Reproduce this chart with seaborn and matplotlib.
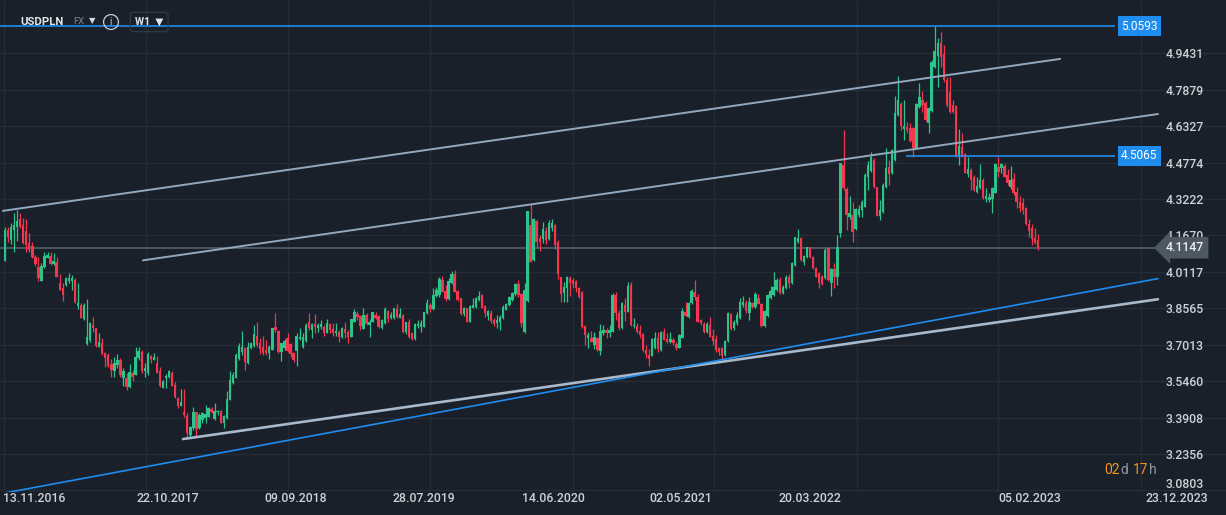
import numpy as np
import matplotlib
matplotlib.use('Agg')
import matplotlib.pyplot as plt
import matplotlib.transforms as mtransforms
import seaborn as sns

# Weekly USDPLN candles (oldest first)
opens = [
    4.060, 4.190, 4.148, 4.190, 4.205, 4.237, 4.212, 4.186, 4.134, 4.122,
    4.077, 4.034, 3.974, 4.031, 4.070, 4.080, 4.044, 4.055, 3.966, 3.942,
    3.956, 3.973, 3.973, 3.977, 3.866, 3.871, 3.810, 3.704, 3.722, 3.786,
    3.771, 3.693, 3.710, 3.665, 3.658, 3.619, 3.587, 3.615, 3.636, 3.558,
    3.561, 3.520, 3.580, 3.572, 3.643, 3.672, 3.587, 3.580, 3.653, 3.636,
    3.622, 3.589, 3.518, 3.558, 3.565, 3.582, 3.530, 3.475, 3.441, 3.416,
    3.397, 3.317, 3.345, 3.413, 3.345, 3.380, 3.387, 3.395, 3.427, 3.385,
    3.415, 3.419, 3.369, 3.387, 3.466, 3.537, 3.561, 3.639, 3.669, 3.689,
    3.622, 3.686, 3.696, 3.739, 3.710, 3.690, 3.679, 3.667, 3.679, 3.778,
    3.761, 3.672, 3.689, 3.728, 3.703, 3.665, 3.676, 3.726, 3.690, 3.719,
    3.800, 3.764, 3.790, 3.771, 3.778, 3.778, 3.753, 3.790, 3.768, 3.750,
    3.757, 3.733, 3.767, 3.757, 3.736, 3.800, 3.831, 3.824, 3.768, 3.828,
    3.786, 3.800, 3.828, 3.824, 3.774, 3.793, 3.845, 3.817, 3.814, 3.854,
    3.817, 3.828, 3.754, 3.797, 3.750, 3.726, 3.781, 3.778, 3.778, 3.835,
    3.871, 3.854, 3.910, 3.913, 3.977, 3.930, 3.896, 3.963, 4.003, 3.930,
    3.899, 3.831, 3.857, 3.800, 3.859, 3.861, 3.892, 3.913, 3.867, 3.825,
    3.835, 3.807, 3.793, 3.800, 3.814, 3.849, 3.871, 3.892, 3.916, 3.959,
    3.916, 3.757, 3.888, 4.212, 4.063, 4.229, 4.155, 4.152, 4.186, 4.152,
    4.198, 4.212, 4.138, 3.991, 3.920, 3.945, 3.984, 3.977, 3.973, 3.945,
    3.927, 3.783, 3.731, 3.731, 3.700, 3.731, 3.676, 3.750, 3.764, 3.750,
    3.757, 3.913, 3.835, 3.771, 3.871, 3.842, 3.956, 3.779, 3.781, 3.760,
    3.746, 3.679, 3.658, 3.655, 3.689, 3.729, 3.679, 3.754, 3.726, 3.714,
    3.722, 3.703, 3.689, 3.731, 3.842, 3.821, 3.878, 3.925, 3.906, 3.807,
    3.790, 3.757, 3.785, 3.739, 3.725, 3.689, 3.689, 3.658, 3.719, 3.832,
    3.771, 3.793, 3.814, 3.871, 3.878, 3.835, 3.878, 3.861, 3.899, 3.875,
    3.783, 3.824, 3.899, 3.913, 3.935, 3.977, 3.921, 3.942, 3.989, 3.963,
    4.041, 4.140, 4.155, 4.055, 4.074, 4.117, 4.077, 4.030, 4.008, 3.994,
    3.985, 4.112, 3.966, 4.023, 3.992, 4.179, 4.468, 4.364, 4.247, 4.254,
    4.193, 4.254, 4.276, 4.287, 4.418, 4.443, 4.489, 4.372, 4.248, 4.269,
    4.372, 4.461, 4.432, 4.489, 4.681, 4.728, 4.620, 4.631, 4.624, 4.624,
    4.539, 4.713, 4.745, 4.733, 4.645, 4.699, 4.887, 4.932, 4.986, 4.941,
    4.830, 4.780, 4.723, 4.719, 4.506, 4.546, 4.515, 4.429, 4.447, 4.418,
    4.354, 4.368, 4.404, 4.321, 4.319, 4.321, 4.350, 4.461, 4.454, 4.464,
    4.425, 4.375, 4.407, 4.354, 4.311, 4.307, 4.283, 4.216, 4.198, 4.155,
    4.148,
]
highs = [
    4.205, 4.205, 4.219, 4.261, 4.276, 4.261, 4.243, 4.237, 4.176, 4.138,
    4.084, 4.077, 4.048, 4.095, 4.095, 4.095, 4.091, 4.074, 4.003, 3.963,
    3.991, 4.006, 3.999, 3.984, 3.966, 3.878, 3.878, 3.896, 3.800, 3.821,
    3.774, 3.750, 3.729, 3.668, 3.665, 3.641, 3.650, 3.660, 3.643, 3.601,
    3.580, 3.618, 3.594, 3.690, 3.690, 3.679, 3.622, 3.672, 3.658, 3.667,
    3.653, 3.608, 3.551, 3.575, 3.594, 3.587, 3.541, 3.480, 3.513, 3.513,
    3.409, 3.355, 3.434, 3.416, 3.409, 3.413, 3.444, 3.437, 3.437, 3.451,
    3.423, 3.423, 3.402, 3.505, 3.591, 3.586, 3.667, 3.707, 3.760, 3.693,
    3.714, 3.710, 3.785, 3.800, 3.728, 3.739, 3.721, 3.700, 3.771, 3.838,
    3.764, 3.707, 3.724, 3.750, 3.707, 3.672, 3.750, 3.771, 3.750, 3.793,
    3.838, 3.793, 3.832, 3.793, 3.807, 3.785, 3.810, 3.793, 3.793, 3.795,
    3.764, 3.778, 3.800, 3.764, 3.810, 3.852, 3.845, 3.828, 3.859, 3.835,
    3.811, 3.842, 3.839, 3.828, 3.811, 3.864, 3.849, 3.839, 3.859, 3.874,
    3.857, 3.831, 3.800, 3.811, 3.754, 3.793, 3.807, 3.807, 3.842, 3.896,
    3.878, 3.945, 3.949, 3.992, 3.996, 3.956, 3.987, 4.016, 4.020, 3.935,
    3.902, 3.864, 3.859, 3.871, 3.902, 3.906, 3.930, 3.916, 3.871, 3.849,
    3.849, 3.814, 3.828, 3.828, 3.871, 3.878, 3.910, 3.925, 3.963, 3.977,
    3.920, 3.963, 4.273, 4.300, 4.243, 4.233, 4.169, 4.226, 4.205, 4.233,
    4.237, 4.215, 4.148, 3.991, 3.967, 3.996, 3.994, 3.984, 3.977, 3.949,
    3.930, 3.786, 3.757, 3.760, 3.754, 3.736, 3.788, 3.786, 3.774, 3.786,
    3.923, 3.927, 3.849, 3.882, 3.899, 3.967, 3.967, 3.817, 3.793, 3.786,
    3.750, 3.700, 3.683, 3.731, 3.757, 3.754, 3.760, 3.771, 3.750, 3.757,
    3.729, 3.714, 3.746, 3.857, 3.882, 3.882, 3.939, 3.977, 3.916, 3.811,
    3.800, 3.800, 3.818, 3.767, 3.743, 3.693, 3.693, 3.722, 3.842, 3.838,
    3.807, 3.842, 3.899, 3.909, 3.892, 3.906, 3.885, 3.927, 3.918, 3.878,
    3.850, 3.918, 3.952, 4.013, 3.984, 3.992, 3.956, 3.999, 4.003, 4.055,
    4.162, 4.193, 4.162, 4.084, 4.119, 4.117, 4.080, 4.034, 4.013, 3.999,
    4.112, 4.119, 4.027, 4.048, 4.169, 4.478, 4.617, 4.375, 4.335, 4.311,
    4.283, 4.297, 4.319, 4.432, 4.486, 4.524, 4.496, 4.375, 4.319, 4.390,
    4.539, 4.489, 4.535, 4.762, 4.847, 4.738, 4.745, 4.652, 4.648, 4.628,
    4.731, 4.816, 4.785, 4.742, 4.713, 4.915, 5.059, 5.008, 5.036, 4.979,
    4.844, 4.842, 4.745, 4.723, 4.620, 4.603, 4.518, 4.500, 4.454, 4.425,
    4.418, 4.472, 4.411, 4.368, 4.347, 4.375, 4.475, 4.500, 4.475, 4.472,
    4.449, 4.464, 4.432, 4.375, 4.336, 4.326, 4.287, 4.236, 4.216, 4.198,
    4.174,
]
lows = [
    4.060, 4.141, 4.131, 4.098, 4.145, 4.198, 4.129, 4.098, 4.095, 4.070,
    4.038, 3.973, 3.974, 4.027, 4.070, 4.041, 4.041, 3.989, 3.935, 3.888,
    3.953, 3.963, 3.935, 3.878, 3.852, 3.814, 3.807, 3.700, 3.714, 3.757,
    3.693, 3.693, 3.658, 3.608, 3.608, 3.565, 3.565, 3.604, 3.565, 3.527,
    3.508, 3.516, 3.548, 3.570, 3.636, 3.580, 3.565, 3.572, 3.622, 3.636,
    3.582, 3.520, 3.516, 3.518, 3.558, 3.523, 3.473, 3.430, 3.438, 3.392,
    3.305, 3.302, 3.338, 3.309, 3.341, 3.369, 3.366, 3.392, 3.412, 3.380,
    3.402, 3.366, 3.345, 3.383, 3.466, 3.534, 3.558, 3.636, 3.658, 3.594,
    3.618, 3.682, 3.693, 3.693, 3.662, 3.658, 3.658, 3.639, 3.679, 3.757,
    3.667, 3.633, 3.679, 3.672, 3.650, 3.629, 3.612, 3.721, 3.686, 3.714,
    3.764, 3.728, 3.750, 3.757, 3.767, 3.739, 3.750, 3.750, 3.739, 3.739,
    3.714, 3.728, 3.728, 3.707, 3.733, 3.797, 3.807, 3.764, 3.768, 3.786,
    3.736, 3.797, 3.811, 3.771, 3.768, 3.790, 3.797, 3.811, 3.810, 3.814,
    3.814, 3.750, 3.746, 3.731, 3.722, 3.723, 3.774, 3.757, 3.776, 3.831,
    3.839, 3.850, 3.906, 3.906, 3.925, 3.888, 3.892, 3.959, 3.925, 3.888,
    3.828, 3.825, 3.797, 3.797, 3.857, 3.857, 3.888, 3.857, 3.821, 3.807,
    3.793, 3.783, 3.771, 3.764, 3.811, 3.849, 3.868, 3.888, 3.910, 3.906,
    3.778, 3.750, 3.885, 4.055, 4.058, 4.112, 4.101, 4.134, 4.129, 4.148,
    4.186, 4.109, 3.981, 3.885, 3.885, 3.885, 3.910, 3.942, 3.927, 3.902,
    3.774, 3.700, 3.686, 3.711, 3.683, 3.675, 3.658, 3.743, 3.731, 3.736,
    3.754, 3.807, 3.764, 3.767, 3.802, 3.839, 3.783, 3.771, 3.750, 3.731,
    3.672, 3.646, 3.612, 3.651, 3.683, 3.669, 3.675, 3.721, 3.707, 3.707,
    3.700, 3.679, 3.686, 3.729, 3.824, 3.817, 3.873, 3.892, 3.797, 3.786,
    3.750, 3.750, 3.733, 3.700, 3.668, 3.658, 3.638, 3.653, 3.714, 3.764,
    3.764, 3.785, 3.810, 3.861, 3.838, 3.807, 3.856, 3.856, 3.875, 3.778,
    3.778, 3.821, 3.895, 3.909, 3.932, 3.918, 3.918, 3.938, 3.942, 3.960,
    4.037, 4.137, 4.060, 4.041, 4.070, 4.070, 4.023, 3.989, 3.942, 3.956,
    3.980, 3.974, 3.909, 3.941, 3.956, 4.159, 4.363, 4.191, 4.236, 4.141,
    4.191, 4.244, 4.247, 4.287, 4.361, 4.439, 4.368, 4.248, 4.233, 4.265,
    4.368, 4.383, 4.429, 4.486, 4.677, 4.617, 4.574, 4.603, 4.567, 4.503,
    4.535, 4.709, 4.695, 4.657, 4.603, 4.695, 4.880, 4.802, 4.887, 4.823,
    4.716, 4.688, 4.688, 4.503, 4.468, 4.500, 4.432, 4.418, 4.361, 4.358,
    4.350, 4.364, 4.321, 4.311, 4.311, 4.262, 4.347, 4.418, 4.432, 4.415,
    4.382, 4.364, 4.340, 4.283, 4.269, 4.259, 4.212, 4.162, 4.127, 4.131,
    4.103,
]
closes = [
    4.190, 4.162, 4.202, 4.212, 4.229, 4.205, 4.134, 4.127, 4.105, 4.077,
    4.046, 3.987, 4.037, 4.081, 4.084, 4.046, 4.058, 3.991, 3.935, 3.913,
    3.984, 3.984, 3.987, 3.885, 3.881, 3.817, 3.871, 3.736, 3.793, 3.771,
    3.696, 3.714, 3.660, 3.643, 3.611, 3.594, 3.622, 3.636, 3.572, 3.587,
    3.520, 3.584, 3.565, 3.648, 3.675, 3.587, 3.601, 3.660, 3.641, 3.648,
    3.582, 3.523, 3.547, 3.568, 3.589, 3.527, 3.477, 3.441, 3.459, 3.402,
    3.326, 3.352, 3.416, 3.342, 3.402, 3.409, 3.406, 3.430, 3.416, 3.419,
    3.419, 3.369, 3.397, 3.470, 3.551, 3.572, 3.658, 3.696, 3.693, 3.629,
    3.693, 3.707, 3.747, 3.700, 3.682, 3.667, 3.667, 3.693, 3.771, 3.764,
    3.672, 3.707, 3.719, 3.676, 3.662, 3.636, 3.739, 3.736, 3.736, 3.785,
    3.771, 3.790, 3.775, 3.785, 3.790, 3.750, 3.795, 3.764, 3.750, 3.761,
    3.736, 3.771, 3.750, 3.736, 3.810, 3.839, 3.821, 3.783, 3.828, 3.790,
    3.800, 3.839, 3.817, 3.778, 3.807, 3.854, 3.811, 3.828, 3.857, 3.821,
    3.831, 3.754, 3.797, 3.736, 3.726, 3.788, 3.788, 3.793, 3.839, 3.878,
    3.854, 3.913, 3.935, 3.981, 3.927, 3.896, 3.973, 4.003, 3.927, 3.892,
    3.831, 3.859, 3.800, 3.868, 3.871, 3.899, 3.910, 3.859, 3.835, 3.845,
    3.803, 3.788, 3.807, 3.821, 3.864, 3.873, 3.906, 3.920, 3.959, 3.913,
    3.793, 3.935, 4.273, 4.055, 4.237, 4.141, 4.141, 4.195, 4.148, 4.219,
    4.219, 4.127, 4.003, 3.917, 3.949, 3.991, 3.963, 3.959, 3.942, 3.906,
    3.778, 3.743, 3.743, 3.711, 3.736, 3.679, 3.760, 3.764, 3.750, 3.764,
    3.913, 3.835, 3.771, 3.878, 3.842, 3.953, 3.786, 3.786, 3.757, 3.743,
    3.679, 3.660, 3.640, 3.726, 3.731, 3.683, 3.757, 3.722, 3.714, 3.726,
    3.707, 3.689, 3.743, 3.845, 3.825, 3.878, 3.930, 3.906, 3.800, 3.793,
    3.757, 3.790, 3.736, 3.719, 3.679, 3.672, 3.653, 3.719, 3.838, 3.768,
    3.800, 3.828, 3.885, 3.885, 3.847, 3.885, 3.861, 3.918, 3.875, 3.783,
    3.847, 3.913, 3.932, 3.949, 3.977, 3.923, 3.949, 3.992, 3.966, 4.048,
    4.159, 4.155, 4.063, 4.080, 4.117, 4.074, 4.027, 3.992, 3.966, 3.960,
    4.105, 3.977, 4.023, 3.992, 4.119, 4.478, 4.368, 4.254, 4.262, 4.183,
    4.278, 4.278, 4.311, 4.425, 4.468, 4.503, 4.372, 4.248, 4.276, 4.383,
    4.454, 4.429, 4.532, 4.691, 4.745, 4.634, 4.634, 4.617, 4.571, 4.539,
    4.727, 4.756, 4.724, 4.660, 4.709, 4.908, 4.954, 4.986, 4.927, 4.830,
    4.723, 4.695, 4.695, 4.506, 4.549, 4.503, 4.435, 4.449, 4.404, 4.361,
    4.378, 4.404, 4.326, 4.336, 4.333, 4.368, 4.472, 4.439, 4.472, 4.418,
    4.390, 4.404, 4.347, 4.311, 4.283, 4.276, 4.216, 4.184, 4.151, 4.137,
    4.115,
]

price_ticks = [4.9431, 4.7879, 4.6327, 4.4774, 4.3222, 4.1670, 4.0117,
               3.8565, 3.7013, 3.5460, 3.3908, 3.2356, 3.0803]
date_labels = ['13.11.2016', '22.10.2017', '09.09.2018', '28.07.2019', '14.06.2020',
               '02.05.2021', '20.03.2022', '05.02.2023', '23.12.2023']
date_pos = [9.5, 53.6, 95.8, 137.9, 180.4, 222.5, 265.0, 337.4, 385.6]
grid_weeks = [-0.3, 46.4, 93.2, 139.9, 187.0, 233.4, 280.4, 326.9, 373.9]

# drawn trend lines, (week index, price) at each end
upper_channel_x, upper_channel_y = [-0.7, 347.3], [4.272, 4.920]
mid_channel_x, mid_channel_y = [45.4, 379.5], [4.061, 4.685]
support_x, support_y = [58.6, 379.5], [3.299, 3.895]
blue_support_x, blue_support_y = [-1.7, 379.5], [3.065, 3.983]

high_level = 5.0593
mid_level = 4.5065
last_price = 4.1147

bg = '#19202a'
grid_col = '#242c36'
green = '#2cc488'
red = '#f5374e'
blue = '#1f8df0'
trend_col = '#93a8bd'
text_col = '#cfd3d8'

sns.set_theme(style='dark', rc={'axes.facecolor': bg, 'figure.facecolor': bg})
plt.rcParams['font.family'] = ['Roboto', 'DejaVu Sans']

o = np.array(opens)
h = np.array(highs)
l = np.array(lows)
c = np.array(closes)
weeks = np.arange(len(c))
up = c >= o
colors = np.where(up, green, red)
body_lo = np.minimum(o, c)
body_h = np.maximum(np.abs(c - o), 0.004)

fig = plt.figure(figsize=(12.26, 5.15), dpi=100)
ax = fig.add_axes([0, 23 / 515, 1, 492 / 515])
ax.set_facecolor(bg)

# grid
for g in grid_weeks:
    ax.axvline(g, color=grid_col, lw=1, zorder=0)
ax.set_yticks(price_ticks)
ax.grid(axis='y', color=grid_col, lw=1)
ax.grid(axis='x', visible=False)

# candles
ax.hlines(last_price, -2, 378.5, color='#555f6a', lw=1.2, zorder=1)
ax.vlines(weeks, l, h, colors=colors, lw=0.9, zorder=2)
ax.bar(weeks, body_h, bottom=body_lo, width=0.78, color=colors, lw=0, zorder=3)

# trend lines
for xs, ys, col, lw in [(upper_channel_x, upper_channel_y, trend_col, 1.4),
                        (mid_channel_x, mid_channel_y, trend_col, 1.4),
                        (support_x, support_y, '#a9b9ca', 1.9),
                        (blue_support_x, blue_support_y, blue, 1.2)]:
    sns.lineplot(x=xs, y=ys, color=col, lw=lw, ax=ax, zorder=4)

# horizontal levels
ax.hlines(high_level, -2, 365.4, color=blue, lw=1.2, zorder=5)
ax.hlines(mid_level, 296.6, 365.4, color=blue, lw=1.2, zorder=5)

ax.set_xlim(-1.646, 401.9)
ax.set_ylim(3.0731, 5.1712)

# axes labels drawn inside the plot, like the platform does
ax.yaxis.tick_right()
ax.set_yticklabels([f'{v:.4f}' for v in price_ticks])
ax.tick_params(axis='y', length=0, pad=-43.5, labelsize=8.8, labelcolor=text_col)
ax.set_xticks(date_pos)
ax.set_xticklabels(date_labels)
ax.tick_params(axis='x', length=0, pad=0, labelsize=8.8, labelcolor=text_col)
for lab in ax.get_xticklabels() + ax.get_yticklabels():
    lab.set_fontweight('medium')
# lowest price label sits a little higher so it clears the date row
low_lab = ax.get_yticklabels()[-1]
low_lab.set_transform(low_lab.get_transform() +
                      mtransforms.ScaledTranslation(0, 5 / 72, fig.dpi_scale_trans))
for s in ax.spines.values():
    s.set_visible(False)
ax.set_xlabel('')
ax.set_ylabel('')

trans = mtransforms.blended_transform_factory(ax.transAxes, ax.transData)
for lvl in [high_level, mid_level]:
    ax.text(1121 / 1226, lvl, f'{lvl:.4f}', transform=trans, ha='left', va='center',
            fontsize=8.6, color='white',
            bbox=dict(boxstyle='square,pad=0.28', fc=blue, ec='none'), zorder=6)
ax.text(1166 / 1226, last_price, f'{last_price:.4f}', transform=trans, ha='left',
        va='center', fontsize=8.8, color='#eef0f2', fontweight='medium',
        bbox=dict(boxstyle='larrow,pad=0.35', fc='#4d5863', ec='none'), zorder=6)

# header
fig.text(20 / 1226, 1 - 22 / 515, 'USDPLN', fontsize=8.2, fontweight='bold',
         color='#e3e6e9', va='center', ha='left')
fig.text(73 / 1226, 1 - 22 / 515, 'FX', fontsize=6.8, color='#7e8892', va='center', ha='left')
fig.text(89 / 1226, 1 - 21 / 515, '▼', fontsize=6, color='#d4d8dc', va='center', ha='left',
         family=['DejaVu Sans'])
fig.text(111 / 1226, 1 - 22 / 515, 'i', fontsize=7, color='#c8cdd2', va='center', ha='center',
         bbox=dict(boxstyle='circle,pad=0.25', fc='none', ec='#c8cdd2', lw=0.9))
fig.text(135 / 1226, 1 - 22 / 515, 'W1  ▼', fontsize=7.5, fontweight='bold', color='#e3e6e9',
         va='center', ha='left', family=['Roboto', 'DejaVu Sans'],
         bbox=dict(boxstyle='round,pad=0.45,rounding_size=0.3', fc='none', ec='#323b45', lw=0.9))

# bar countdown
for part, col, px in [('02', '#f0961e', 1104), ('d', '#8d97a1', 1120),
                      ('17', '#f0961e', 1133), ('h', '#8d97a1', 1149)]:
    fig.text(px / 1226, 1 - 470 / 515, part, fontsize=10, color=col, va='center', ha='left')

fig.savefig('out.png', dpi=100, facecolor=bg)
